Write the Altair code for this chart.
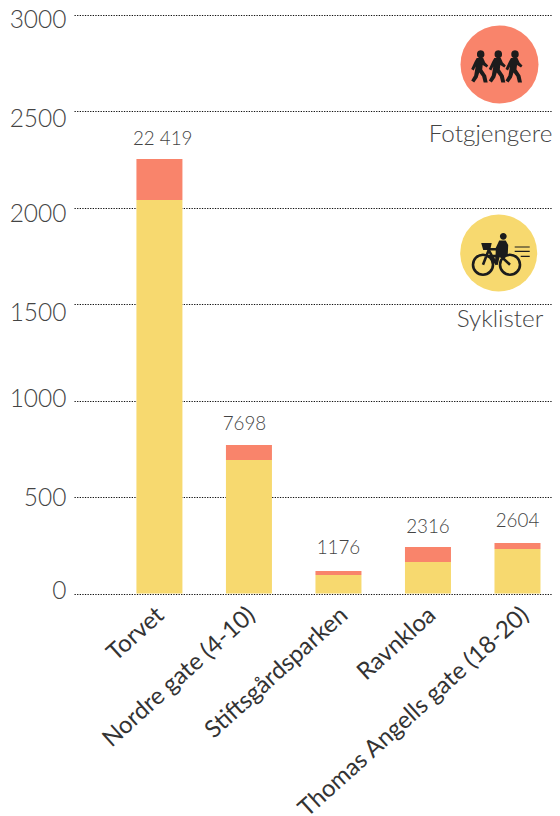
import altair as alt
import pandas as pd

categories = ["Torvet", "Nordre gate (4-10)", "Stiftsgårdsparken", "Ravnkloa", "Thomas Angells gate (18-20)"]
syklister = [2041, 692, 96, 163, 231]
fotgjengere = [212, 78, 21, 78, 31]
labels = ["22 419", "7698", "1176", "2316", "2604"]
y_ticks = [0, 500, 1000, 1500, 2000, 2500, 3000]
label_dx = [3.3, -4.5, 0, 0, 0]
label_dy = [-20, -21, -23, -20, -22]

YELLOW = "#F7D96F"
CORAL = "#F9846B"
FONT = "Lato"

rows = []
for c_, s_, f_ in zip(categories, syklister, fotgjengere):
    rows.append({"cat": c_, "type": "Syklister", "v0": 0, "v1": s_})
    rows.append({"cat": c_, "type": "Fotgjengere", "v0": s_, "v1": s_ + f_})
bars_df = pd.DataFrame(rows)
totals_df = pd.DataFrame({"cat": categories, "total": [s + f for s, f in zip(syklister, fotgjengere)], "label": labels})

W, H = 478, 578.5
x_label_offset = ("datum.value==='Torvet'?1.3:datum.value==='Nordre gate (4-10)'?3:"
                  "datum.value==='Stiftsgårdsparken'?6:datum.value==='Ravnkloa'?4.5:8")
y_label_offset = ("datum.value==3000?5.5:datum.value==2500?8.5:datum.value==2000?7:datum.value==1500?9:"
                  "datum.value==1000?-1:datum.value==500?1:-2.5")
x_scale = alt.Scale(domain=categories, paddingInner=0.514, paddingOuter=0.427, align=0.833)
x_enc = alt.X("cat:N", scale=x_scale, sort=categories, axis=alt.Axis(
    title=None, labelAngle=-42, labelAlign="right", labelBaseline="middle", labelFont=FONT, labelFontSize=24,
    labelFontWeight=400, labelColor="#333333", labelPadding=18, ticks=False, domain=False, labelOverlap=False, labelLimit=0,
    labelOffset=alt.ExprRef(x_label_offset)))
y_scale = alt.Scale(domain=[0, 3000], nice=False)
y_axis = alt.Axis(title=None, values=y_ticks, format="d", labelFont=FONT, labelFontSize=24.5, labelFontWeight=300,
                  labelColor="#444444", labelPadding=8, ticks=False, domain=False, grid=True,
                  gridColor="#111111", gridDash=[1.3, 1.3], gridWidth=1, gridOpacity=1,
                  labelOffset=alt.ExprRef(y_label_offset))

bars = alt.Chart(bars_df).mark_bar(size=46).encode(
    x=x_enc,
    y=alt.Y("v0:Q", scale=y_scale, axis=y_axis),
    y2="v1:Q",
    color=alt.Color("type:N", scale=alt.Scale(domain=["Syklister", "Fotgjengere"], range=[YELLOW, CORAL]), legend=None),
)
texts = [
    alt.Chart(totals_df.iloc[[i]]).mark_text(font=FONT, fontSize=18.8, fontWeight=300, color="#444444",
                                             dx=label_dx[i], dy=label_dy[i]).encode(
        x=x_enc,
        y=alt.Y("total:Q", scale=y_scale, axis=y_axis),
        text="label:N",
    )
    for i in range(len(categories))
]

def px(x): return alt.value(x)

def point(shape, x, y, size, **kw):
    return alt.Chart(pd.DataFrame({"a": [0]})).mark_point(shape=shape, size=size, opacity=1, **kw).encode(
        x=px(x), y=px(y))

def walker(cx):
    u = lambda a, b: f"{(cx + a) / 32:.3f},{b / 32:.3f}"
    r = 3.7 / 32
    head = f"M{u(-3.7, -10.2)}A{r:.3f},{r:.3f} 0 1 1 {u(3.7, -10.2)}A{r:.3f},{r:.3f} 0 1 1 {u(-3.7, -10.2)}Z"
    body = ("M" + "L".join(u(a, b) for a, b in [
        (-4, -6.5), (2.5, -6.5), (4.5, -2), (7.5, 1), (6, 3), (2, 0.5), (1.5, 5), (5.5, 11), (7, 18), (3, 18),
        (1.5, 12), (-1.5, 8), (-3, 13), (-6.5, 18), (-9.5, 16), (-6.5, 11), (-5, 2), (-7, 6), (-9.5, 4.5), (-6, -3)]) + "Z")
    return head + body

walkers_path = " ".join(walker(c_) for c_ in [-18.8, -1.2, 15.5])

def c(a, b, r):
    r /= 32
    a /= 32
    b /= 32
    return f"M{a-r:.3f},{b:.3f}A{r:.3f},{r:.3f} 0 1 1 {a+r:.3f},{b:.3f}A{r:.3f},{r:.3f} 0 1 1 {a-r:.3f},{b:.3f}Z"

def pts(lst, close=True):
    s = "M" + "L".join(f"{a/32:.3f},{b/32:.3f}" for a, b in lst)
    return s + ("Z" if close else "")

bike_fill = c(4.6, -16.7, 3.4) + pts([
    (0.5, -12.5), (7, -12.5), (9.5, -8), (9, 3), (1, 3.5), (-1, 12), (-4, 11), (-3, 0), (-3, -2.5), (-11, -2.5), (-11, -5), (-3, -5)]) + pts(
    [(-17.5, -10), (-7, -10), (-8.5, -3), (-15.5, -3)])
bike_stroke = (c(-15.7, 11.7, 10) + c(11.3, 11.7, 10) +
               pts([(-15.7, 11.7), (-10, -3), (-2, 11.7)], False) +
               pts([(-10, 3), (2, 3), (11.3, 11.7)], False))
lines = (pts([(16, -6), (31, -6)], False) + pts([(16, -1.7), (31, -1.7)], False) + pts([(22, 3.3), (31, 3.3)], False))

CX1, CY1 = 425.5, 49.5
CX2, CY2 = 424.7, 238
coral_c = point("circle", CX1, CY1, 6084, filled=True, color=CORAL)
coral_i = point(walkers_path, CX1, CY1, 4096, filled=True, color="#1c1c1c")
yellow_c = point("circle", CX2, CY2, 5929, filled=True, color=YELLOW)
yellow_f = point(bike_fill, CX2, CY2, 4096, filled=True, color="#1c1c1c")
yellow_s = point(bike_stroke, CX2, CY2, 4096, filled=False, color="#1c1c1c", strokeWidth=2.6)
yellow_l = point(lines, CX2, CY2, 4096, filled=False, color="#1c1c1c", strokeWidth=1.2)

def lab(t, x, y):
    return alt.Chart(pd.DataFrame({"t": [t]})).mark_text(font=FONT, fontSize=24.3, fontWeight=300, color="#444444").encode(
        x=px(x), y=px(y), text="t:N")

chart = alt.layer(bars, *texts, coral_c, coral_i, yellow_c, yellow_f, yellow_s, yellow_l,
                  lab("Fotgjengere", 416.5, 120), lab("Syklister", 426, 305)).properties(
    width=W, height=H,
    autosize=alt.AutoSizeParams(type="none"),
    padding={"left": 66, "top": 7, "right": 0, "bottom": 222.5},
).configure_view(stroke=None)

chart.save("out.html", embed_options={"renderer": "svg", "actions": False})
